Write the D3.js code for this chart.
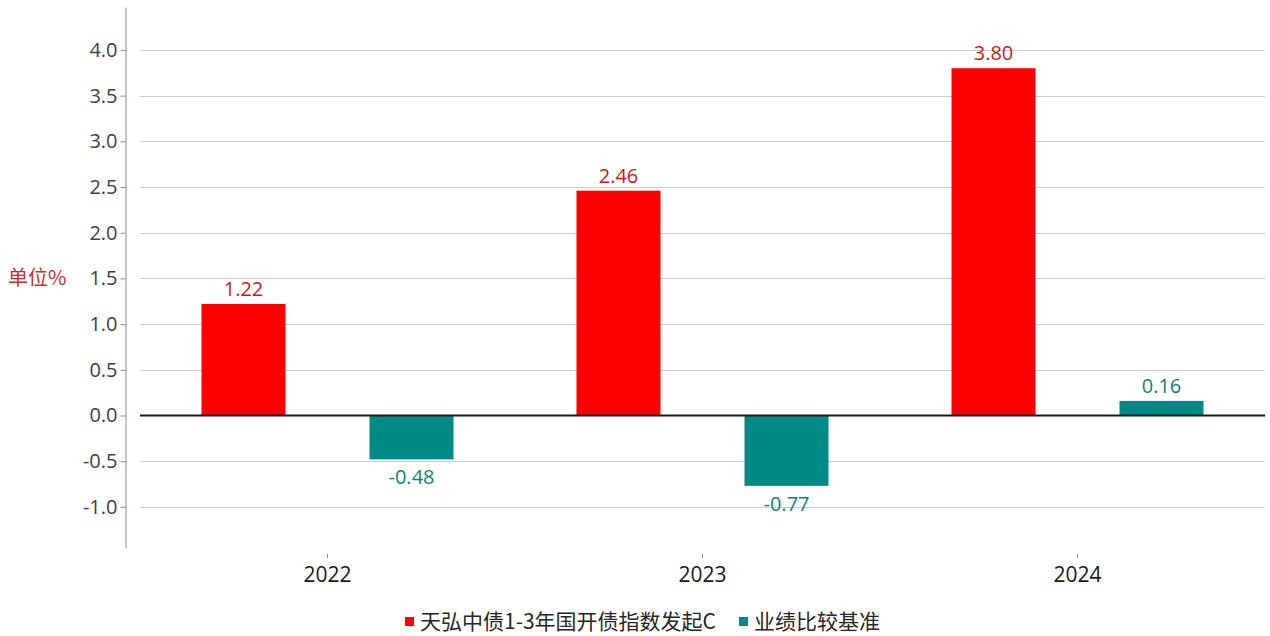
<!DOCTYPE html>
<html>
<head>
<meta charset="utf-8">
<script src="https://cdn.jsdelivr.net/npm/d3@7"></script>
<style>
  body { margin: 0; background: #fff; }
  text { font-family: "Noto Sans CJK SC", "Noto Sans", sans-serif; }
  .num { font-family: "Open Sans", "Noto Sans", sans-serif; }
</style>
</head>
<body>
<div id="chart"></div>
<script>
// data
const years = ['2022', '2023', '2024'];
const seriesNames = ['天弘中债1-3年国开债指数发起C', '业绩比较基准'];
const fundValues = [1.22, 2.46, 3.80];
const benchValues = [-0.48, -0.77, 0.16];
const yTicks = [-1.0, -0.5, 0.0, 0.5, 1.0, 1.5, 2.0, 2.5, 3.0, 3.5, 4.0];

const WIDTH = 1270;
const HEIGHT = 636;
const BAR_COLORS = ['#ff0000', '#008a85'];
const LABEL_COLORS = ['#cc1a1a', '#157f7a'];

// plain hyphen for negatives, like the original
const fmt1 = d => d3.format('.1f')(d).replace('−', '-');
const fmt2 = d => d3.format('.2f')(d).replace('−', '-');

const svg = d3.select('#chart')
  .append('svg')
  .attr('width', WIDTH)
  .attr('height', HEIGHT);

const y = d3.scaleLinear()
  .domain([-1.45, 4.47])
  .range([548, 7]);

const x0 = d3.scaleBand()
  .domain(years)
  .range([140, 1265]);

const x1 = d3.scaleBand()
  .domain(seriesNames)
  .range([0, x0.bandwidth()])
  .paddingInner(0.5)
  .paddingOuter(0.366);

// gridlines
svg.append('g')
  .selectAll('line')
  .data(yTicks)
  .join('line')
  .attr('x1', 140)
  .attr('x2', 1265)
  .attr('y1', d => Math.round(y(d)) + 0.5)
  .attr('y2', d => Math.round(y(d)) + 0.5)
  .attr('stroke', '#cccccc')
  .attr('stroke-width', 1);

// y axis
const yAxis = svg.append('g')
  .attr('transform', 'translate(125.5,0)')
  .call(d3.axisLeft(y).tickValues(yTicks).tickFormat(fmt1).tickSize(5).tickSizeOuter(0));
yAxis.select('.domain').attr('stroke', '#8c8c8c');
yAxis.selectAll('.tick line').attr('stroke', '#8c8c8c');
yAxis.selectAll('.tick text')
  .attr('class', 'num')
  .attr('x', -8)
  .attr('fill', '#404040')
  .style('font-size', '20px');

// unit label
svg.append('text')
  .attr('x', 8)
  .attr('y', y(1.5))
  .attr('dy', '0.35em')
  .attr('fill', '#c0302e')
  .style('font-size', '20px')
  .text('单位%');

// x axis ticks + labels
const xAxis = svg.append('g')
  .attr('transform', 'translate(0,554)')
  .call(d3.axisBottom(x0).tickSize(4).tickSizeOuter(0).tickPadding(9));
xAxis.select('.domain').remove();
xAxis.selectAll('.tick line').attr('stroke', '#8c8c8c');
xAxis.selectAll('.tick text')
  .attr('class', 'num')
  .attr('fill', '#1a1a1a')
  .style('font-size', '21px');

// bars
const rows = years.map((yr, i) => ({ year: yr, values: [fundValues[i], benchValues[i]] }));

const groups = svg.append('g')
  .selectAll('g')
  .data(rows)
  .join('g')
  .attr('transform', d => `translate(${x0(d.year)},0)`);

groups.selectAll('rect')
  .data(d => d.values.map((v, k) => ({ name: seriesNames[k], k: k, v: v })))
  .join('rect')
  .attr('x', d => x1(d.name))
  .attr('width', x1.bandwidth())
  .attr('y', d => y(Math.max(0, d.v)))
  .attr('height', d => Math.abs(y(d.v) - y(0)))
  .attr('fill', d => BAR_COLORS[d.k]);

groups.selectAll('text')
  .data(d => d.values.map((v, k) => ({ name: seriesNames[k], k: k, v: v })))
  .join('text')
  .attr('class', 'num')
  .attr('x', d => x1(d.name) + x1.bandwidth() / 2)
  .attr('y', d => d.v >= 0 ? y(d.v) - 8 : y(d.v) + 25)
  .attr('text-anchor', 'middle')
  .attr('fill', d => LABEL_COLORS[d.k])
  .style('font-size', '20px')
  .text(d => fmt2(d.v));

// zero line
svg.append('line')
  .attr('x1', 140)
  .attr('x2', 1265)
  .attr('y1', y(0))
  .attr('y2', y(0))
  .attr('stroke', '#1a1a1a')
  .attr('stroke-width', 2);

// legend
const legend = svg.append('g').attr('transform', 'translate(0,622)');
const legendX = [405, 739];
seriesNames.forEach((name, k) => {
  legend.append('rect')
    .attr('x', legendX[k])
    .attr('y', -5)
    .attr('width', 9)
    .attr('height', 9)
    .attr('fill', BAR_COLORS[k]);
  legend.append('text')
    .attr('x', legendX[k] + 15)
    .attr('y', 0)
    .attr('dy', '0.35em')
    .attr('fill', '#262626')
    .style('font-size', '21px')
    .text(name);
});
</script>
</body>
</html>
